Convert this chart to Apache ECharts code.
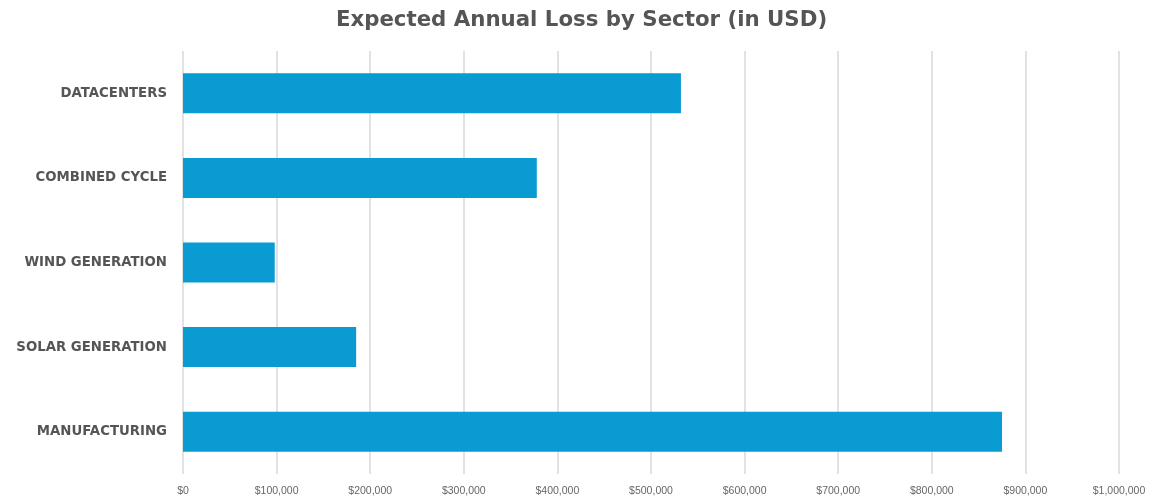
<!DOCTYPE html>
<html>
<head>
<meta charset="utf-8">
<script src="https://cdn.jsdelivr.net/npm/echarts@6/dist/echarts.min.js"></script>
<style>html,body{margin:0;padding:0;background:#fff}#c{width:1163px;height:500px}</style>
</head>
<body>
<div id="c"></div>
<script>
const categories = ["DATACENTERS", "COMBINED CYCLE", "WIND GENERATION", "SOLAR GENERATION", "MANUFACTURING"];
const lossValues = [532000, 378000, 98000, 185000, 875000];
const xTicks = [0, 100000, 200000, 300000, 400000, 500000, 600000, 700000, 800000, 900000, 1000000];

const chart = echarts.init(document.getElementById('c'), null, {renderer: 'canvas'});
chart.setOption({
  animation: false,
  title: {
    text: 'Expected Annual Loss by Sector (in USD)',
    left: 'center',
    top: 5,
    textStyle: {fontFamily: 'DejaVu Sans', fontWeight: 'bold', fontSize: 21.3, color: '#555555'}
  },
  grid: {left: 183, right: 44, top: 51, bottom: 26, containLabel: false},
  xAxis: {
    type: 'value',
    min: xTicks[0],
    max: xTicks[xTicks.length - 1],
    interval: 100000,
    axisLine: {show: false},
    axisTick: {show: false},
    splitLine: {show: true, lineStyle: {color: '#e2e2e2', width: 2}},
    axisLabel: {
      margin: 12,
      fontFamily: 'Liberation Sans',
      fontSize: 10.5,
      color: '#666666',
      formatter: v => '$' + v.toLocaleString('en-US')
    }
  },
  yAxis: {
    type: 'category',
    inverse: true,
    data: categories,
    axisLine: {show: false},
    axisTick: {show: false},
    axisLabel: {
      margin: 16,
      fontFamily: 'DejaVu Sans',
      fontWeight: 'bold',
      fontSize: 13.3,
      color: '#555555'
    }
  },
  series: [{
    type: 'bar',
    data: lossValues,
    barWidth: 40,
    itemStyle: {color: '#0b9bd3'}
  }]
});
</script>
</body>
</html>
